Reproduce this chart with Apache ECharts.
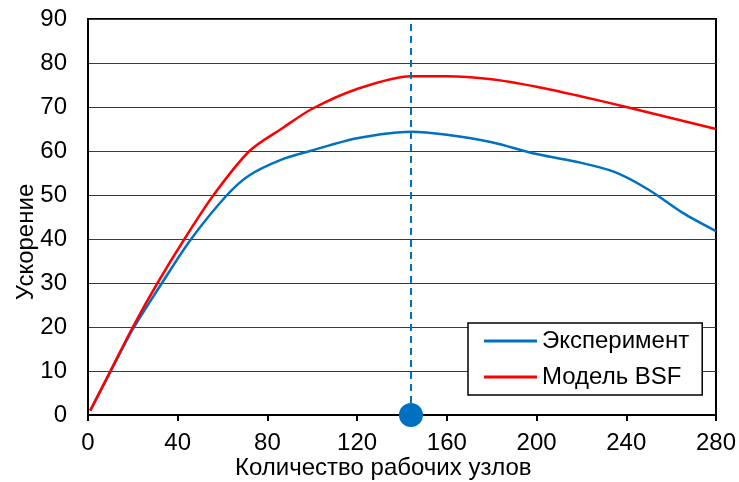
<!DOCTYPE html>
<html>
<head>
<meta charset="utf-8">
<script src="https://cdn.jsdelivr.net/npm/echarts@6/dist/echarts.min.js"></script>
<style>
html,body{margin:0;padding:0;background:#fff;}
#c{width:739px;height:482px;}
</style>
</head>
<body>
<div id="c"></div>
<script>
// Data
var seriesNames = ['Эксперимент', 'Модель BSF'];
var expX = [1, 10, 20, 33, 46, 62, 72, 86, 99, 120, 144, 160, 180, 200, 220, 235, 250, 265, 280];
var expY = [1, 9.8, 19.5, 30, 40, 50, 54.5, 58, 60, 62.9, 64.4, 63.7, 62, 59.3, 57.3, 55.2, 51.2, 46, 41.8];
var bsfX = [1, 10, 20, 31, 43, 56, 72, 87, 100, 120, 144, 160, 180, 200, 220, 240, 260, 280];
var bsfY = [1, 10, 20, 30, 40, 50, 60, 65.3, 69.6, 74.1, 77, 77, 76.3, 74.6, 72.4, 70, 67.5, 65];
var optimumX = 144;
var xTicks = [0, 40, 80, 120, 160, 200, 240, 280];
var yTicks = [0, 10, 20, 30, 40, 50, 60, 70, 80, 90];
var xTitle = 'Количество рабочих узлов';
var yTitle = 'Ускорение';

function pairs(xs, ys){ return xs.map(function(x,i){ return [x, ys[i]]; }); }

var blue = '#0070C0', red = '#FF0000';
var font = 'Liberation Sans, Arial, sans-serif';

var chart = echarts.init(document.getElementById('c'));
chart.setOption({
  animation: false,
  backgroundColor: '#fff',
  grid: { left: 88, top: 19, right: 21, bottom: 67, show: true, borderColor: '#000', borderWidth: 2, backgroundColor: 'transparent' },
  xAxis: {
    type: 'value', min: xTicks[0], max: xTicks[xTicks.length-1], interval: 40,
    axisLine: { show: true, lineStyle: { color: '#000', width: 2 } },
    axisTick: { show: true, inside: false, length: 6, lineStyle: { color: '#000', width: 2 } },
    axisLabel: { color: '#000', fontSize: 24, fontFamily: font, margin: 16 },
    splitLine: { show: false }
  },
  yAxis: {
    type: 'value', min: yTicks[0], max: yTicks[yTicks.length-1], interval: 10,
    axisLine: { show: true, lineStyle: { color: '#000', width: 2 } },
    axisTick: { show: false },
    axisLabel: { color: '#000', fontSize: 24, fontFamily: font, margin: 21 },
    splitLine: { show: true, lineStyle: { color: '#3a3a3a', width: 1.2 } }
  },
  legend: {
    data: [
      { name: seriesNames[0], icon: 'rect', itemStyle: { color: blue } },
      { name: seriesNames[1], icon: 'rect', itemStyle: { color: red } }
    ],
    orient: 'vertical',
    left: 468, top: 323,
    backgroundColor: '#fff',
    borderColor: '#000', borderWidth: 1.5,
    padding: [6, 13, 6, 16],
    itemGap: 12,
    itemWidth: 53, itemHeight: 3,
    textStyle: { color: '#000', fontSize: 24, fontFamily: font }
  },
  graphic: [
    { type: 'text', left: 235, top: 456, style: { text: xTitle, fill: '#000', font: '24px ' + font } },
    { type: 'text', x: 26, y: 242, rotation: Math.PI/2, style: { text: yTitle, fill: '#000', font: '24px ' + font, textAlign: 'center', textVerticalAlign: 'middle' } }
  ],
  series: [
    {
      name: seriesNames[0], type: 'line', data: pairs(expX, expY),
      smooth: 0.3, symbol: 'none',
      lineStyle: { color: blue, width: 2.5 }, itemStyle: { color: blue },
      markLine: {
        silent: true, symbol: 'none', label: { show: false },
        lineStyle: { color: blue, type: [7, 5], width: 2 },
        data: [ { xAxis: optimumX } ]
      },
      z: 3
    },
    {
      name: seriesNames[1], type: 'line', data: pairs(bsfX, bsfY),
      smooth: 0.3, symbol: 'none',
      lineStyle: { color: red, width: 2.5 }, itemStyle: { color: red },
      z: 3
    },
    {
      name: 'optimum', type: 'scatter', data: [[optimumX, 0]],
      symbolSize: 24, clip: false, itemStyle: { color: blue, opacity: 1 }, z: 5
    }
  ]
});
</script>
</body>
</html>
